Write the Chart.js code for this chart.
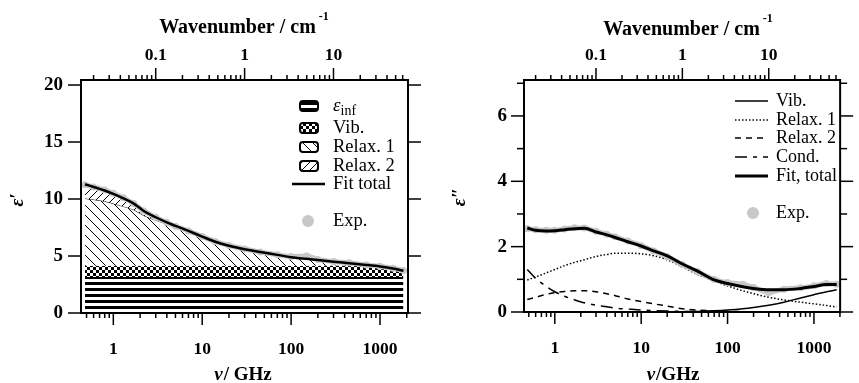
<!DOCTYPE html>
<html><head><meta charset="utf-8">
<script src="https://cdn.jsdelivr.net/npm/chart.js@4/dist/chart.umd.min.js"></script>
<style>
html,body{margin:0;padding:0;background:#fff;}
#wrap{position:relative;width:859px;height:383px;overflow:hidden;background:#fff;}
canvas{position:absolute;top:0;}
#c1{left:0;} #c2{left:430px;}
</style></head><body>
<div id="wrap"><canvas id="c1" width="430" height="383"></canvas><canvas id="c2" width="429" height="383"></canvas></div>
<script>
// ---------------- data ----------------
const freqGHz = [0.48, 0.6, 0.8, 1, 1.3, 1.7, 2.2, 3, 4, 5, 7, 10, 14, 20, 30, 45, 70, 100, 150, 200, 300, 450, 700, 1000, 1400, 1835];

// left panel: eps' (boundaries of the stacked contributions)
const epsInfLevel = 3.15;
const vibTopL    = [4.15, 4.15, 4.15, 4.15, 4.15, 4.15, 4.15, 4.15, 4.15, 4.15, 4.15, 4.15, 4.15, 4.15, 4.15, 4.15, 4.15, 4.15, 4.15, 4.15, 4.16, 4.15, 4.1, 4.0, 3.85, 3.65];
const relax1TopL = [10.05, 9.95, 9.8, 9.6, 9.35, 9.05, 8.55, 8.15, 7.8, 7.55, 7.15, 6.68, 6.25, 5.9, 5.6, 5.35, 5.1, 4.9, 4.75, 4.65, 4.5, 4.37, 4.22, 4.08, 3.9, 3.7];
const fitTotalL  = [11.3, 11.05, 10.75, 10.45, 10.05, 9.6, 8.95, 8.4, 7.95, 7.65, 7.2, 6.7, 6.25, 5.9, 5.6, 5.35, 5.1, 4.9, 4.75, 4.65, 4.5, 4.37, 4.22, 4.08, 3.9, 3.7];
const expL       = [11.25, 11.05, 10.8, 10.5, 10.1, 9.6, 8.95, 8.4, 7.95, 7.62, 7.2, 6.72, 6.28, 5.92, 5.62, 5.35, 5.12, 4.95, 5.0, 4.7, 4.52, 4.4, 4.22, 4.1, 3.92, 3.72];

// right panel: eps''
const vibR    = [0, 0, 0, 0, 0, 0, 0, 0, 0, 0, 0, 0, 0, 0, 0.005, 0.015, 0.035, 0.06, 0.1, 0.14, 0.21, 0.3, 0.43, 0.53, 0.62, 0.68];
const relax1R = [0.98, 1.07, 1.2, 1.3, 1.42, 1.52, 1.6, 1.7, 1.76, 1.8, 1.8, 1.78, 1.72, 1.6, 1.38, 1.15, 0.95, 0.8, 0.65, 0.56, 0.45, 0.37, 0.3, 0.25, 0.2, 0.15];
const relax2R = [0.38, 0.45, 0.54, 0.59, 0.63, 0.65, 0.65, 0.62, 0.56, 0.5, 0.4, 0.32, 0.25, 0.18, 0.1, 0.06, 0.035, 0.02, 0.012, 0.008, 0.005, 0, 0, 0, 0, 0];
const condR   = [1.3, 1.03, 0.78, 0.62, 0.48, 0.37, 0.28, 0.21, 0.16, 0.12, 0.09, 0.06, 0.045, 0.03, 0.02, 0.014, 0.009, 0.006, 0.004, 0.003, 0.002, 0.001, 0.001, 0, 0, 0];
const fitR    = [2.57, 2.5, 2.48, 2.49, 2.52, 2.55, 2.56, 2.45, 2.36, 2.28, 2.15, 2.02, 1.87, 1.72, 1.47, 1.25, 0.98, 0.87, 0.77, 0.72, 0.68, 0.68, 0.72, 0.78, 0.84, 0.84];
const expR    = [2.55, 2.52, 2.5, 2.5, 2.54, 2.58, 2.57, 2.47, 2.38, 2.3, 2.17, 2.03, 1.87, 1.7, 1.45, 1.23, 1.0, 0.9, 0.85, 0.75, 0.6, 0.7, 0.74, 0.8, 0.87, 0.85];

// ticks
const xMajorTicks  = [1, 10, 100, 1000];
const xMinorTicks  = [0.5, 0.6, 0.7, 0.8, 0.9, 2, 3, 4, 5, 6, 7, 8, 9, 20, 30, 40, 50, 60, 70, 80, 90, 200, 300, 400, 500, 600, 700, 800, 900, 2000];
const wnMajorTicks = [0.1, 1, 10];
const wnMinorTicks = [0.02, 0.03, 0.04, 0.05, 0.06, 0.07, 0.08, 0.09, 0.2, 0.3, 0.4, 0.5, 0.6, 0.7, 0.8, 0.9, 2, 3, 4, 5, 6, 7, 8, 9, 20, 30, 40, 50, 60];
const yTicksL      = [0, 5, 10, 15, 20];
const yMajorR      = [0, 2, 4, 6];
const yMinorR      = [1, 3, 5, 7];

// texts
const legendL = ['ε|inf', 'Vib.', 'Relax. 1', 'Relax. 2', 'Fit total', 'Exp.'];
const legendR = ['Vib.', 'Relax. 1', 'Relax. 2', 'Cond.', 'Fit, total', 'Exp.'];
const xTitleTextL = ['ν', '/ GHz'];
const xTitleTextR = ['ν', '/GHz'];
const topTitleText = ['Wavenumber / cm', '-1'];

// ---------------- helpers ----------------
const SERIF = '"Liberation Serif", "Times New Roman", serif';
const GHZ_PER_CM = 29.9792458;
const pts = arr => freqGHz.map((f, i) => ({x: f, y: arr[i]}));

function tile(w, h, draw) {
  const c = document.createElement('canvas'); c.width = w; c.height = h;
  const g = c.getContext('2d'); g.fillStyle = '#fff'; g.fillRect(0, 0, w, h); draw(g); return c;
}
const pctx = document.getElementById('c1').getContext('2d');
const stripePat = pctx.createPattern(tile(6, 6, g => { g.fillStyle = '#000'; g.fillRect(0, 0, 6, 3); }), 'repeat');
const checkPat  = pctx.createPattern(tile(6, 6, g => { g.fillStyle = '#000'; g.fillRect(0, 0, 3, 3); g.fillRect(3, 3, 3, 3); }), 'repeat');
const backPat   = pctx.createPattern(tile(10, 10, g => { g.strokeStyle = '#000'; g.lineWidth = 1; g.beginPath(); g.moveTo(-1, -1); g.lineTo(11, 11); g.stroke(); }), 'repeat');
const slashPat  = pctx.createPattern(tile(8, 8, g => { g.strokeStyle = '#000'; g.lineWidth = 1; g.beginPath(); g.moveTo(-1, 9); g.lineTo(9, -1); g.stroke(); }), 'repeat');

function decorPlugin(cfg) {
  return {
    id: 'decor',
    afterDraw(chart) {
      const ctx = chart.ctx, a = chart.chartArea;
      const sx = chart.scales.x, sx2 = chart.scales.x2, sy = chart.scales.y;
      ctx.save();
      ctx.strokeStyle = '#000'; ctx.lineCap = 'butt';
      const line = (x1, y1, x2, y2) => { ctx.beginPath(); ctx.moveTo(x1, y1); ctx.lineTo(x2, y2); ctx.stroke(); };
      ctx.lineWidth = 1.5;
      xMajorTicks.forEach(v => { const p = sx.getPixelForValue(v); line(p, a.bottom, p, a.bottom + 12); });
      xMinorTicks.forEach(v => { const p = sx.getPixelForValue(v); if (p <= a.right && p >= a.left) line(p, a.bottom, p, a.bottom + 5); });
      wnMajorTicks.forEach(v => { const p = sx2.getPixelForValue(v); line(p, a.top, p, a.top - 12); });
      wnMinorTicks.forEach(v => { const p = sx2.getPixelForValue(v); if (p <= a.right && p >= a.left) line(p, a.top, p, a.top - 5); });
      cfg.yMajor.forEach(v => { const p = sy.getPixelForValue(v); line(a.left - 13, p, a.left, p); line(a.right, p, a.right + 13, p); });
      cfg.yMinor.forEach(v => { const p = sy.getPixelForValue(v); line(a.left - 7, p, a.left, p); line(a.right, p, a.right + 7, p); });
      ctx.lineWidth = 2;
      ctx.strokeRect(a.left, a.top, a.right - a.left, a.bottom - a.top);

      ctx.fillStyle = '#000'; ctx.textBaseline = 'alphabetic'; ctx.textAlign = 'left';
      // bottom title
      const xt = cfg.xTitleText;
      ctx.font = 'bold italic 19px ' + SERIF; const w1 = ctx.measureText(xt[0]).width + 1;
      ctx.font = 'bold 19px ' + SERIF; const w2 = ctx.measureText(xt[1]).width;
      let x0 = cfg.xTitle[0] - (w1 + w2) / 2;
      ctx.font = 'bold italic 19px ' + SERIF; ctx.fillText(xt[0], x0, cfg.xTitle[1]);
      ctx.font = 'bold 19px ' + SERIF; ctx.fillText(xt[1], x0 + w1, cfg.xTitle[1]);
      // top title
      ctx.font = 'bold 20px ' + SERIF; const t1 = ctx.measureText(topTitleText[0]).width;
      ctx.font = 'bold 12px ' + SERIF; const t2 = ctx.measureText(topTitleText[1]).width;
      x0 = cfg.topTitle[0] - (t1 + t2 + 3) / 2;
      ctx.font = 'bold 20px ' + SERIF; ctx.fillText(topTitleText[0], x0, cfg.topTitle[1]);
      ctx.font = 'bold 12px ' + SERIF; ctx.fillText(topTitleText[1], x0 + t1 + 3, cfg.topTitle[1] - 13);
      // y title
      ctx.save(); ctx.translate(cfg.yTitle[0], cfg.yTitle[1]); ctx.rotate(-Math.PI / 2);
      ctx.font = 'bold italic 19px ' + SERIF; ctx.textAlign = 'center'; ctx.textBaseline = 'middle';
      ctx.fillText(cfg.yTitle[2], 0, 0); ctx.restore();

      // legend
      const L = cfg.legend;
      ctx.textBaseline = 'middle'; ctx.textAlign = 'left';
      L.items.forEach((it, k) => {
        const cy = L.rows[k];
        const ds = chart.data.datasets[it.ds];
        if (it.kind === 'box') {
          ctx.save();
          ctx.beginPath(); ctx.roundRect(L.boxX, cy - 5, 18, 10, 3);
          ctx.fillStyle = ds.backgroundColor; ctx.fill();
          ctx.lineWidth = 2; ctx.strokeStyle = '#000'; ctx.stroke();
          ctx.restore();
        } else if (it.kind === 'line') {
          ctx.save(); ctx.strokeStyle = '#000'; ctx.lineWidth = ds.borderWidth;
          ctx.setLineDash(ds.borderDash || []);
          line(L.lineX[0], cy, L.lineX[1], cy); ctx.restore();
        } else {
          ctx.save(); ctx.fillStyle = '#c8c8c8'; ctx.beginPath();
          ctx.arc(L.dotX, cy, 6, 0, Math.PI * 2); ctx.fill(); ctx.restore();
        }
        const parts = it.text.split('|');
        ctx.fillStyle = '#000';
        if (parts.length > 1) {
          ctx.font = 'italic 19px ' + SERIF; ctx.fillText(parts[0], L.textX, cy);
          const pw = ctx.measureText(parts[0]).width;
          ctx.font = '14px ' + SERIF; ctx.fillText(parts[1], L.textX + pw, cy + 5);
        } else {
          ctx.font = L.font + 'px ' + SERIF; ctx.fillText(it.text, L.textX, cy);
        }
      });
      ctx.restore();
    }
  };
}

function scalesFor(p) {
  const xFont = {family: SERIF, size: 17.5, weight: 'bold'};
  const yFont = {family: SERIF, size: 19, weight: 'bold'};
  return {
    x: {type: 'logarithmic', axis: 'x', position: 'bottom', min: p.xMin, max: p.xMax,
        grid: {display: false, drawTicks: false}, border: {display: false},
        afterBuildTicks: s => { s.ticks = xMajorTicks.map(v => ({value: v})); },
        afterFit: s => { s.height = p.bottomH; },
        ticks: {font: xFont, color: '#000', padding: 26, maxRotation: 0, autoSkip: false, callback: v => String(v)}},
    x2: {type: 'logarithmic', axis: 'x', position: 'top', min: p.xMin / GHZ_PER_CM, max: p.xMax / GHZ_PER_CM,
        grid: {display: false, drawTicks: false}, border: {display: false},
        afterBuildTicks: s => { s.ticks = wnMajorTicks.map(v => ({value: v})); },
        afterFit: s => { s.height = p.topH; },
        ticks: {font: xFont, color: '#000', padding: 14, maxRotation: 0, autoSkip: false, callback: v => String(v)}},
    y: {type: 'linear', axis: 'y', position: 'left', min: 0, max: p.yMax,
        grid: {display: false, drawTicks: false}, border: {display: false},
        afterBuildTicks: s => { s.ticks = p.yLabels.map(v => ({value: v})); },
        afterFit: s => { s.width = p.leftW; },
        ticks: {font: yFont, color: '#000', padding: p.yPad, callback: v => String(v)}},
    y2: {type: 'linear', axis: 'y', position: 'right', min: 0, max: p.yMax,
        grid: {display: false, drawTicks: false}, border: {display: false},
        afterFit: s => { s.width = p.rightW; },
        ticks: {display: false}}
  };
}

const baseOpts = {responsive: false, animation: false, devicePixelRatio: 1,
  layout: {padding: 0}, plugins: {legend: {display: false}, tooltip: {enabled: false}},
  elements: {point: {radius: 0}, line: {cubicInterpolationMode: 'monotone'}}};

// ---------------- left chart ----------------
new Chart(document.getElementById('c1'), {
  type: 'line',
  data: {datasets: [
    {label: 'eps_inf', data: pts(freqGHz.map(() => epsInfLevel)), fill: 'origin', backgroundColor: stripePat, borderWidth: 0, order: 5},
    {label: 'Vib.', data: pts(vibTopL), fill: '-1', backgroundColor: checkPat, borderWidth: 0, order: 4},
    {label: 'Relax. 1', data: pts(relax1TopL), fill: '-1', backgroundColor: backPat, borderColor: '#000', borderWidth: 1, order: 3},
    {label: 'Relax. 2', data: pts(fitTotalL), fill: '-1', backgroundColor: slashPat, borderWidth: 0, order: 2},
    {label: 'Exp.', data: pts(expL), fill: false, borderColor: '#c8c8c8', borderWidth: 5, pointRadius: 3.5, pointBackgroundColor: '#c8c8c8', pointBorderWidth: 0, order: 1},
    {label: 'Fit total', data: pts(fitTotalL), fill: false, borderColor: '#000', borderWidth: 2.5, order: 0}
  ]},
  options: Object.assign({}, baseOpts, {scales: scalesFor({xMin: 0.433, xMax: 2065, yMax: 20.44, yLabels: yTicksL, bottomH: 70, topH: 80, leftW: 81, rightW: 22, yPad: 18})}),
  plugins: [decorPlugin({
    yMajor: yTicksL, yMinor: [], xTitle: [243, 380], xTitleText: xTitleTextL, topTitle: [244, 33], yTitle: [18, 200, 'ε′'],
    legend: {font: 18.5, boxX: 300, textX: 333, lineX: [292, 325], dotX: 308, rows: [106, 128, 147, 166, 184, 221],
      items: [{kind: 'box', ds: 0, text: legendL[0]}, {kind: 'box', ds: 1, text: legendL[1]}, {kind: 'box', ds: 2, text: legendL[2]},
              {kind: 'box', ds: 3, text: legendL[3]}, {kind: 'line', ds: 5, text: legendL[4]}, {kind: 'dot', ds: 4, text: legendL[5]}]}
  })]
});

// ---------------- right chart ----------------
new Chart(document.getElementById('c2'), {
  type: 'line',
  data: {datasets: [
    {label: 'Vib.', data: pts(vibR), borderColor: '#000', borderWidth: 1.5, fill: false, order: 6},
    {label: 'Relax. 1', data: pts(relax1R), borderColor: '#000', borderWidth: 1.5, borderDash: [1.5, 2], fill: false, order: 5},
    {label: 'Relax. 2', data: pts(relax2R), borderColor: '#000', borderWidth: 1.5, borderDash: [6, 5], fill: false, order: 4},
    {label: 'Cond.', data: pts(condR), borderColor: '#000', borderWidth: 1.5, borderDash: [12, 6, 4, 6], fill: false, order: 3},
    {label: 'Fit, total', data: pts(fitR), borderColor: '#000', borderWidth: 3, fill: false, order: 0},
    {label: 'Exp.', data: pts(expR), borderColor: '#c8c8c8', borderWidth: 5, pointRadius: 3.5, pointBackgroundColor: '#c8c8c8', pointBorderWidth: 0, fill: false, order: 1}
  ]},
  options: Object.assign({}, baseOpts, {scales: scalesFor({xMin: 0.44, xMax: 2010, yMax: 7.1, yLabels: yMajorR, bottomH: 71, topH: 80, leftW: 94, rightW: 10, yPad: 17})}),
  plugins: [decorPlugin({
    yMajor: yMajorR, yMinor: yMinorR, xTitle: [243, 380], xTitleText: xTitleTextR, topTitle: [258, 35], yTitle: [30, 197, 'ε″'],
    legend: {font: 18, boxX: 0, textX: 346, lineX: [305, 338], dotX: 323, rows: [101, 120, 138, 157, 176, 213],
      items: [{kind: 'line', ds: 0, text: legendR[0]}, {kind: 'line', ds: 1, text: legendR[1]}, {kind: 'line', ds: 2, text: legendR[2]},
              {kind: 'line', ds: 3, text: legendR[3]}, {kind: 'line', ds: 4, text: legendR[4]}, {kind: 'dot', ds: 5, text: legendR[5]}]}
  })]
});
</script>
</body></html>
